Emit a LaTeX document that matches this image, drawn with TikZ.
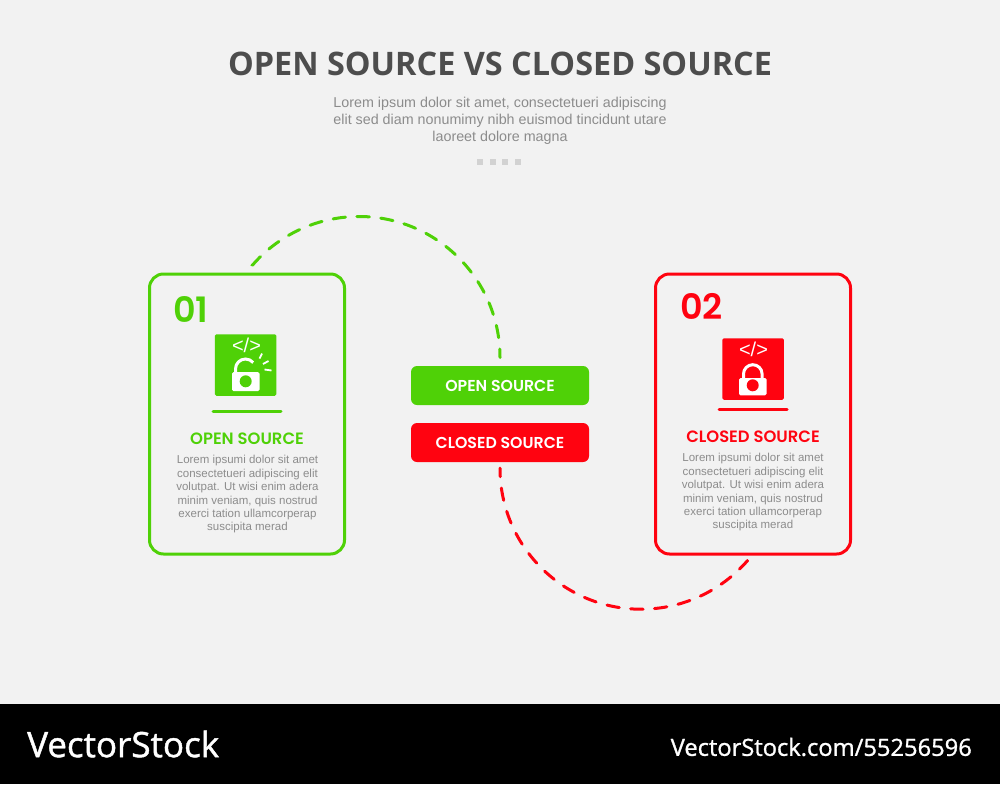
\documentclass[tikz,border=0pt]{standalone}
\usepackage{fontspec}
\setmainfont{Liberation Sans}
\newfontfamily\titlefont{Open Sans}
\newfontfamily\brandfont[RawFeature={embolden=1.2}]{Open Sans}
\newfontfamily\popfont[BoldFont={Poppins SemiBold}]{Poppins}
\usetikzlibrary{positioning}
\definecolor{opengreen}{HTML}{4FD107}
\definecolor{closedred}{HTML}{FF0310}
\definecolor{pagegray}{HTML}{F2F2F2}
\definecolor{titlegray}{HTML}{4D4D4D}
\definecolor{bodygray}{HTML}{8C8C8C}
\definecolor{dotgray}{HTML}{D2D2D2}
\tikzset{
  cardbox/.style={draw=#1, line width=3pt, rounded corners=14pt, minimum width=195pt, minimum height=280pt, inner sep=0pt},
  tagbox/.style={fill=#1, rounded corners=6pt, minimum width=178pt, minimum height=39pt, inner sep=0pt, text=white, font=\popfont\bfseries\fontsize{15.8}{15.8}\selectfont},
  iconbox/.style={fill=#1, rounded corners=1.5pt, minimum width=61.5pt, minimum height=61.5pt, inner sep=0pt},
  numlabel/.style={text=#1, inner sep=0pt, font=\popfont\bfseries\fontsize{35}{35}\selectfont},
  headlabel/.style={text=#1, inner sep=0pt, font=\popfont\bfseries\fontsize{16.4}{16.4}\selectfont},
  bodylabel/.style={text=bodygray, inner sep=0pt, align=center, font=\fontsize{11.5}{13.4}\selectfont},
  codelabel/.style={text=white, inner sep=0pt, font=\fontsize{20}{20}\selectfont},
  dashline/.style={draw=#1, line width=3pt, line cap=round, dash pattern=on 12.5pt off 11.4pt, dash phase=4pt},
}
\begin{document}
\begin{tikzpicture}[x=1pt,y=-1pt]
   \useasboundingbox (0,0) rectangle (1000,784);
   \fill[pagegray] (0,0) rectangle (1000,704);
   \fill[black] (0,704) rectangle (1000,784);

   % heading
   \node[text=titlegray, inner sep=0pt, font=\titlefont\bfseries\fontsize{32.4}{32.4}\selectfont] (title) at (500,63.5) {OPEN SOURCE VS CLOSED SOURCE};
   \node[text=bodygray, inner sep=0pt, align=center, font=\fontsize{14.3}{17.2}\selectfont] (intro) at (500,121)
     {Lorem ipsum dolor sit amet, consectetueri adipiscing\\elit sed diam nonumimy nibh euismod tincidunt utare\\laoreet dolore magna};
   \foreach \dotx in {480,492.5,505,517.5}
     \fill[dotgray] (\dotx-3,158.5) rectangle (\dotx+3,164.5);

   % cards
   \node[cardbox=opengreen] (opencard) at (247,414) {};
   \node[cardbox=closedred] (closedcard) at (753,414) {};
   \node[numlabel=opengreen] (opennum) at (191,309.5) {01};
   \node[numlabel=closedred] (closednum) at (701.5,306.5) {02};

   % open icon
   \node[iconbox=opengreen] (openicon) at (245.7,365) {};
   \node[codelabel] (opencode) at (246.5,345.5) {</>};
   \draw[white, line width=3pt] (235.5,374) -- (235.5,369) arc[start angle=180, end angle=320, x radius=10, y radius=10];
   \fill[white, rounded corners=1.5pt] (232,372) rectangle (259.5,391);
   \fill[opengreen] (245.7,381.3) circle (6);
   \draw[white, line width=1.8pt] (262,353.5) -- (259.5,358.5)  (263,364) -- (268.5,361)  (264.5,369.5) -- (271.5,370.5);
   \draw[opengreen, line width=3pt, line cap=round] (213,411) -- (281,411);

   % closed icon
   \node[iconbox=closedred] (closedicon) at (753,369) {};
   \node[codelabel] (closedcode) at (753.5,349.5) {</>};
   \draw[white, line width=3pt] (743.5,380) -- (743.5,374) arc[start angle=180, end angle=360, radius=9.3] -- (762.1,380);
   \fill[white, rounded corners=1.5pt] (739,378) rectangle (766.5,395.3);
   \fill[closedred] (752.7,385.3) circle (6);
   \draw[closedred, line width=3pt, line cap=round] (719,409.7) -- (787,409.7);

   % card text
   \node[headlabel=opengreen] (openhead) at (247,438.5) {OPEN SOURCE};
   \node[headlabel=closedred] (closedhead) at (753,436.5) {CLOSED SOURCE};
   \node[bodylabel] (opentext) at (247.5,494.5) {Lorem ipsumi dolor sit amet\\consectetueri adipiscing elit\\volutpat. Ut wisi enim adera\\minim veniam, quis nostrud\\exerci tation ullamcorperap\\suscipita merad};
   \node[bodylabel] (closedtext) at (753,492.5) {Lorem ipsumi dolor sit amet\\consectetueri adipiscing elit\\volutpat. Ut wisi enim adera\\minim veniam, quis nostrud\\exerci tation ullamcorperap\\suscipita merad};

   % middle tags
   \node[tagbox=opengreen] (opentag) at (500,385.5) {OPEN SOURCE};
   \node[tagbox=closedred] (closedtag) at (500,442.5) {CLOSED SOURCE};

   % dashed links
   \coordinate (openend) at (252.9,265.2);
   \coordinate (closedend) at (747.4,560.5);
   \draw[dashline=opengreen] ([yshift=8.3pt]opentag.north) arc[start angle=0, end angle=-139, radius=141] -- (openend);
   \draw[dashline=closedred] ([yshift=-6pt]closedtag.south) arc[start angle=180, end angle=41, radius=141] -- (closedend);

   % footer
   \node[text=white, anchor=west, inner sep=0pt, font=\brandfont\fontsize{35}{35}\selectfont] (brand) at (27,744) {VectorStock};
   \node[text=white, anchor=east, inner sep=0pt, font=\brandfont\fontsize{23.7}{23.7}\selectfont] (stockid) at (972,747) {VectorStock.com/55256596};
\end{tikzpicture}
\end{document}
